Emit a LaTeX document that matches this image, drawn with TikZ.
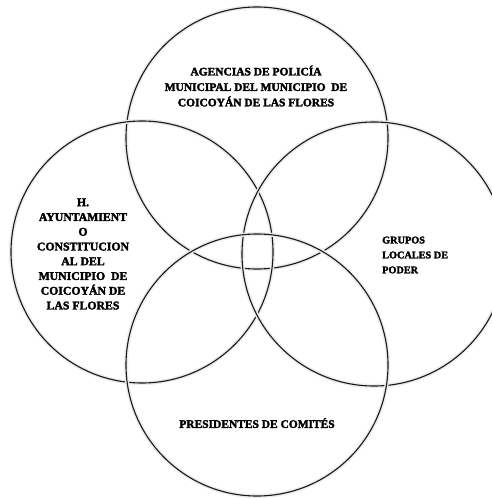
\documentclass[tikz,border=0pt]{standalone}
\usepackage{fontspec}
\setmainfont{Liberation Serif}
\newfontfamily\heavy[FakeBold=2.5]{Liberation Serif Bold}
\begin{document}
\begin{tikzpicture}[x=1bp,y=-1bp,
  ring/.style={circle, inner sep=0pt, minimum size=262bp, draw=black!90, line width=1.1bp,
    preaction={draw=black!8, line width=4bp}},
  lbl/.style={font=\heavy\fontsize{11.5}{15}\selectfont, inner sep=0pt, align=center}]
\useasboundingbox (0,0) rectangle (492,498);
\begin{scope}
\clip (0,0) rectangle (492,498);
\node[ring] (top) at (257,138) {};
\node[ring] (left) at (142,252) {};
\node[ring, minimum size=264bp] (right) at (374,254) {};
\node[ring] (bottom) at (257,365) {};
\end{scope}
\node[lbl, font=\heavy\fontsize{11.5}{15.5}\selectfont] (ttop) at (256,86) {AGENCIAS DE POLICÍA\\MUNICIPAL DEL MUNICIPIO\ \ DE\\COICOYÁN DE LAS FLORES};
\node[lbl, font=\heavy\fontsize{11.8}{14.8}\selectfont] (tleft) at (83,254) {H.\\AYUNTAMIENT\\O\\CONSTITUCION\\AL DEL\\MUNICIPIO\ \ DE\\COICOYÁN DE\\LAS FLORES};
\node[lbl, font=\heavy\fontsize{10.3}{15}\selectfont, align=left, anchor=west] (tright) at (382,255) {GRUPOS\\LOCALES DE\\PODER};
\node[lbl] (tbottom) at (257,423) {PRESIDENTES DE COMITÉS};
\end{tikzpicture}
\end{document}
